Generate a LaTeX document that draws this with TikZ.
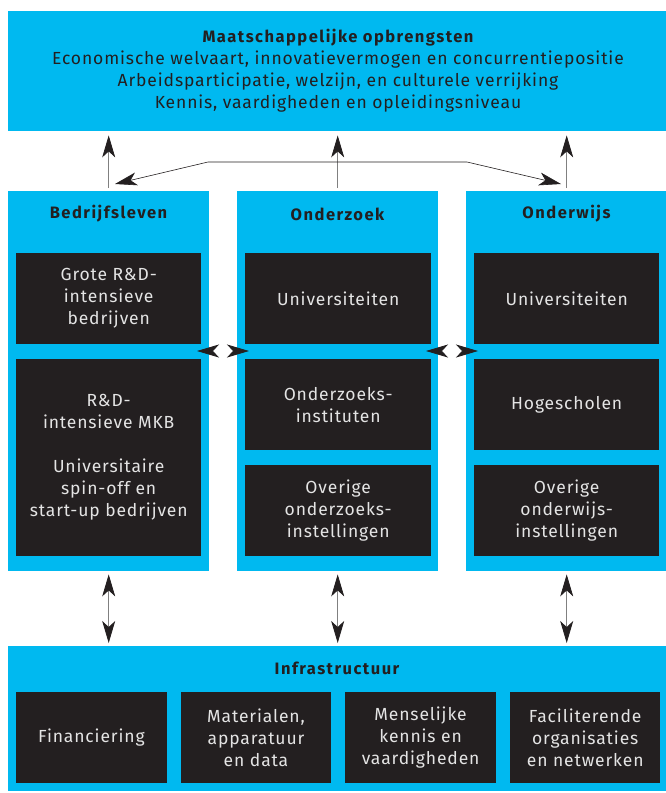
\documentclass[tikz,border=0pt]{standalone}
\usepackage{fontspec}
\setmainfont{Fira Sans}[LetterSpace=5]
\newfontfamily\kopfont[LetterSpace=9]{Fira Sans}
\usetikzlibrary{arrows.meta,positioning}

\definecolor{cyaan}{RGB}{0,185,240}
\definecolor{donker}{RGB}{35,31,32}
\definecolor{lichtgrijs}{RGB}{228,228,228}

\tikzset{
  blok/.style={fill=cyaan, inner sep=0pt, anchor=north west},
  vak/.style={fill=donker, text=lichtgrijs, align=center, inner sep=0pt,
    anchor=north west, font=\fontsize{17.5}{22}\selectfont},
  kop/.style={text=donker, font=\kopfont\bfseries\fontsize{16.5}{20}\selectfont},
  pijl/.style={draw=gray, line width=0.8pt,
    >={Stealth[length=22pt, width=13pt, inset=6pt, color=donker]}, ->},
  dubbelpijl/.style={draw=gray, line width=0.8pt,
    >={Stealth[length=22pt, width=13pt, inset=6pt, color=donker]}, <->},
}

\begin{document}
\begin{tikzpicture}[x=1pt, y=-1pt]
  \useasboundingbox (0,0) rectangle (666,793);

  % maatschappelijke opbrengsten
  \node[blok, minimum width=660pt, minimum height=120pt] (opbr) at (8,11) {};
  \node[text=donker, align=center, font=\fontsize{17.5}{22}\selectfont] (opbrtekst) at (338,70.5)
    {{\kopfont\bfseries\fontsize{16.5}{22}\selectfont Maatschappelijke opbrengsten}\\
     Economische welvaart, innovatievermogen en concurrentiepositie\\
     Arbeidsparticipatie, welzijn, en culturele verrijking\\
     Kennis, vaardigheden en opleidingsniveau};

  % drie kolommen
  \node[blok, minimum width=201pt, minimum height=380pt] (bedrijf) at (8,191) {};
  \node[blok, minimum width=201pt, minimum height=380pt] (onderzoek) at (237,191) {};
  \node[blok, minimum width=201pt, minimum height=380pt] (onderwijs) at (466,191) {};
  \node[kop] (bedrijfkop) at (108.5,214) {Bedrijfsleven};
  \node[kop] (onderzoekkop) at (337.5,214) {Onderzoek};
  \node[kop] (onderwijskop) at (566.5,214) {Onderwijs};

  \node[vak, minimum width=185pt, minimum height=91pt] (grote) at (16,253)
    {Grote R\&D-\\intensieve\\bedrijven};
  \node[vak, minimum width=185pt, minimum height=197pt] (mkb) at (16,359)
    {R\&D-\\intensieve MKB\\[22pt]Universitaire\\spin-off en\\start-up bedrijven};

  \node[vak, minimum width=186pt, minimum height=91pt] (univ1) at (245,253) {Universiteiten};
  \node[vak, minimum width=186pt, minimum height=91pt] (instituten) at (245,359)
    {Onderzoeks-\\instituten};
  \node[vak, minimum width=186pt, minimum height=91pt] (overig1) at (245,465)
    {Overige\\onderzoeks-\\instellingen};

  \node[vak, minimum width=185pt, minimum height=91pt] (univ2) at (474,253) {Universiteiten};
  \node[vak, minimum width=185pt, minimum height=91pt] (hogescholen) at (474,359) {Hogescholen};
  \node[vak, minimum width=185pt, minimum height=91pt] (overig2) at (474,465)
    {Overige\\onderwijs-\\instellingen};

  % infrastructuur
  \node[blok, minimum width=660pt, minimum height=145pt] (infra) at (8,646) {};
  \node[kop] (infrakop) at (337,668) {Infrastructuur};
  \foreach \x/\naam/\tekst in {16/fin/Financiering,
      180.6/mat/{Materialen,\\apparatuur\\en data},
      345.2/mens/{Menselijke\\kennis en\\vaardigheden},
      509.8/fac/{Faciliterende\\organisaties\\en netwerken}} {
    \node[vak, minimum width=150.4pt, minimum height=91pt] (\naam) at (\x,692) {\tekst};
  }

  % pijlen naar boven
  \foreach \kol in {bedrijf, onderzoek, onderwijs} {
    \draw[pijl, shorten <=3pt, shorten >=4pt] (\kol.north) -- (\kol.north |- opbr.south);
    \draw[dubbelpijl, shorten <=3pt, shorten >=3pt] (\kol.south) -- (\kol.south |- infra.north);
  }

  % verbinding bedrijfsleven - onderwijs
  \coordinate (bl) at (208,162);
  \coordinate (br) at (467,162);
  \coordinate (tipl) at (115,184);
  \coordinate (tipr) at (561,184);
  \draw[dubbelpijl, draw=donker, line width=0.6pt] (tipl) -- (bl) -- (br) -- (tipr);

  % horizontale pijlen tussen kolommen
  \coordinate (h1l) at (197,351);
  \coordinate (h1r) at (249,351);
  \coordinate (h2l) at (426,351);
  \coordinate (h2r) at (478,351);
  \draw[dubbelpijl, draw=white] (h1l) -- (h1r);
  \draw[dubbelpijl, draw=white] (h2l) -- (h2r);
\end{tikzpicture}
\end{document}
